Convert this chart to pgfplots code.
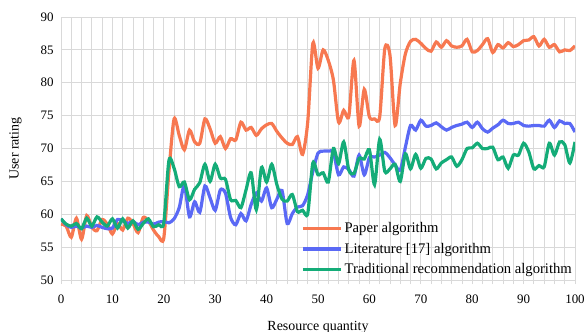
\documentclass[border=0pt]{standalone}
\usepackage{pgfplots}
\pgfplotsset{compat=1.18}
\usepackage{fontspec}
\setmainfont{Liberation Serif}
\definecolor{cpaper}{RGB}{247,120,80}
\definecolor{clit}{RGB}{90,105,245}
\definecolor{ctrad}{RGB}{20,172,120}
\definecolor{gridc}{RGB}{217,217,217}
\begin{document}
\begin{tikzpicture}
\useasboundingbox (-61bp,-52bp) rectangle (525bp,280bp);
\begin{axis}[
  scale only axis, width=514bp, height=263bp,
  xmin=0, xmax=100, ymin=50, ymax=90,
  xtick={0,10,...,100}, minor xtick={0,2,...,100},
  ytick={50,55,...,90},
  xticklabels={0,10,20,30,40,50,60,70,80,90,100},
  yticklabels={50,55,60,65,70,75,80,85,90},
  grid=both,
  major grid style={gridc, line width=0.8pt},
  minor grid style={gridc, line width=0.8pt},
  axis line style={gridc, line width=0.8pt},
  xtick pos=bottom, ytick pos=left,
  tick align=outside,
  major tick length=4bp, minor tick length=4bp,
  x tick style={gridc, line width=0.8pt},
  y tick style={draw=none},
  ticklabel style={font=\fontsize{13}{15}\selectfont, text=black},
  xticklabel style={yshift=-7bp},
  xlabel={Resource quantity}, ylabel={User rating},
  label style={font=\fontsize{14}{16}\selectfont},
  xlabel style={yshift=-11bp},
  ylabel style={yshift=12bp},
  legend style={at={(1,0.005)}, anchor=south east, draw=none, fill=none,
    font=\fontsize{14.7}{16}\selectfont, row sep=5bp, inner sep=1bp},
  legend cell align=left,
  legend image code/.code={\draw[line width=3.2bp] (0bp,0bp) -- (38bp,0bp);},
  every axis plot/.append style={line width=3.2bp, smooth, tension=0.45},
]
\addplot[cpaper] coordinates {
(0,58.5)(1,58.2)(2,56.5)(3,59.4)(4,56.2)(5,59.8)(6,58.0)(7,57.5)(8,59.2)(9,58.5)
(10,57.0)(11,58.6)(12,57.6)(13,59.4)(14,58.6)(15,57.2)(16,59.5)(17,59.0)(18,57.6)(19,56.6)
(20,56.4)(21,66.5)(22,74.5)(23,72.0)(24,69.8)(25,72.8)(26,71.0)(27,70.8)(28,74.5)(29,73.0)
(30,70.8)(31,71.8)(32,70.0)(33,71.5)(34,71.3)(35,74.0)(36,72.8)(37,73.2)(38,72.0)(39,73.0)
(40,73.6)(41,73.8)(42,72.6)(43,71.6)(44,70.8)(45,70.6)(46,71.8)(47,69.1)(48,74.0)(49,86.0)
(50,82.2)(51,85.0)(52,83.4)(53,80.4)(54,74.0)(55,75.8)(56,74.9)(57,83.4)(58,73.4)(59,79.0)
(60,74.8)(61,74.5)(62,74.8)(63,85.2)(64,84.2)(65,73.5)(66,79.9)(67,84.4)(68,86.3)(69,86.6)
(70,86.0)(71,85.2)(72,84.8)(73,86.2)(74,85.4)(75,86.4)(76,85.6)(77,85.4)(78,85.6)(79,86.6)
(80,84.7)(81,84.9)(82,85.8)(83,86.7)(84,84.6)(85,85.8)(86,85.3)(87,86.1)(88,85.5)(89,85.8)
(90,86.4)(91,86.5)(92,87.0)(93,85.6)(94,86.6)(95,85.4)(96,85.8)(97,84.7)(98,85.0)(99,84.9)
(100,85.6)};
\addlegendentry{Paper algorithm}
\addplot[clit] coordinates {
(0,59.3)(1,58.4)(2,58.0)(3,58.2)(4,57.9)(5,58.2)(6,58.0)(7,58.3)(8,58.0)(9,57.8)
(10,57.9)(11,59.2)(12,59.0)(13,58.6)(14,58.9)(15,58.4)(16,58.8)(17,58.8)(18,58.5)(19,58.8)
(20,58.9)(21,58.7)(22,59.3)(23,61.0)(24,64.4)(25,59.6)(26,61.9)(27,60.3)(28,64.3)(29,62.5)
(30,60.6)(31,63.7)(32,63.2)(33,59.5)(34,58.4)(35,60.1)(36,59.0)(37,61.5)(38,63.2)(39,62.0)
(40,64.0)(41,61.0)(42,62.3)(43,63.6)(44,58.6)(45,60.1)(46,61.1)(47,61.3)(48,63.0)(49,66.5)
(50,69.3)(51,69.6)(52,69.6)(53,69.4)(54,66.0)(55,67.2)(56,66.8)(57,65.8)(58,69.0)(59,66.0)
(60,68.6)(61,68.7)(62,69.0)(63,69.4)(64,68.6)(65,67.5)(66,66.7)(67,70.2)(68,73.5)(69,72.8)
(70,74.3)(71,73.4)(72,73.5)(73,73.9)(74,73.3)(75,72.8)(76,73.2)(77,73.5)(78,73.7)(79,74.0)
(80,73.2)(81,74.0)(82,73.0)(83,72.5)(84,73.1)(85,73.6)(86,74.3)(87,73.8)(88,73.8)(89,74.0)
(90,73.5)(91,73.4)(92,73.5)(93,73.5)(94,73.4)(95,74.3)(96,73.2)(97,74.2)(98,73.8)(99,73.8)
(100,72.5)};
\addlegendentry{Literature [17] algorithm}
\addplot[ctrad] coordinates {
(0,59.3)(1,58.5)(2,58.2)(3,58.6)(4,57.8)(5,59.4)(6,58.2)(7,59.6)(8,58.8)(9,58.2)
(10,59.3)(11,57.9)(12,59.3)(13,57.9)(14,59.0)(15,57.7)(16,58.6)(17,59.3)(18,58.1)(19,58.4)
(20,58.7)(21,68.2)(22,67.0)(23,64.2)(24,64.9)(25,62.2)(26,63.8)(27,64.8)(28,67.6)(29,65.0)
(30,67.6)(31,65.5)(32,65.3)(33,62.2)(34,62.1)(35,61.0)(36,63.7)(37,66.3)(38,60.7)(39,67.1)
(40,64.9)(41,67.6)(42,64.5)(43,62.3)(44,62.0)(45,63.0)(46,60.4)(47,60.6)(48,60.1)(49,67.8)
(50,66.0)(51,66.3)(52,64.9)(53,70.0)(54,67.7)(55,71.0)(56,66.7)(57,66.2)(58,68.5)(59,68.4)
(60,69.8)(61,64.5)(62,71.4)(63,66.5)(64,66.9)(65,67.6)(66,65.0)(67,69.2)(68,66.9)(69,69.1)
(70,67.0)(71,68.5)(72,68.4)(73,66.9)(74,67.8)(75,68.3)(76,68.7)(77,67.3)(78,68.3)(79,70.0)
(80,70.1)(81,70.8)(82,70.0)(83,70.0)(84,70.2)(85,68.3)(86,68.7)(87,67.0)(88,69.0)(89,69.0)
(90,70.8)(91,69.5)(92,66.9)(93,67.4)(94,67.2)(95,70.8)(96,69.0)(97,71.0)(98,70.6)(99,67.8)
(100,71.0)};
\addlegendentry{Traditional recommendation algorithm}
\end{axis}
\end{tikzpicture}
\end{document}
